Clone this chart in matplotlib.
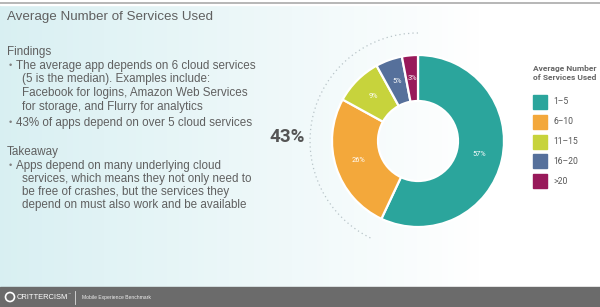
import numpy as np
import matplotlib
matplotlib.use('Agg')
import matplotlib.pyplot as plt
from matplotlib.patches import Arc, Rectangle

# data
categories = ['1\u20135', '6\u201310', '11\u201315', '16\u201320', '>20']
shares = [57, 26, 9, 5, 3]
colors = ['#2ba59c', '#f3a83b', '#c7d33c', '#56709b', '#98195a']
over_five = sum(shares[1:])

title = 'Average Number of Services Used'
findings = [
    ['The average app depends on 6 cloud services',
     '(5 is the median). Examples include:',
     'Facebook for logins, Amazon Web Services',
     'for storage, and Flurry for analytics'],
    ['43% of apps depend on over 5 cloud services'],
]
takeaway = [
    ['Apps depend on many underlying cloud',
     'services, which means they not only need to',
     'be free of crashes, but the services they',
     'depend on must also work and be available'],
]

W, H = 600, 307
fig = plt.figure(figsize=(6, 3.07), dpi=100)

# background / text layer (pixel coords, y down)
bg = fig.add_axes([0, 0, 1, 1])
bg.set_xlim(0, W)
bg.set_ylim(H, 0)
bg.axis('off')
grad = np.linspace(0, 1, 256)
c0 = np.array([0.85, 0.94, 0.95])
c1 = np.array([1.0, 1.0, 1.0])
t = np.clip(grad / 0.8, 0, 1)[None, :, None]
img = c0 * (1 - t) + c1 * t
bg.imshow(img, extent=[0, W, 287, 5], aspect='auto', zorder=0)
bg.add_patch(Rectangle((0, 0), W, 5, color='white', zorder=1))
bg.plot([0, W], [3, 3], color='#aaaaaa', lw=1.2, zorder=2)
bg.add_patch(Rectangle((0, 287), W, 20, color='#6b6b6b', zorder=1))

txt = '#606060'
body = dict(fontsize=8.4, color=txt, family='Liberation Sans', va='center')
bullet = dict(fontsize=6.5, color='#808080', family='Liberation Sans', va='center')
bg.text(7, 17, title, fontsize=9.6, color=txt, family='Liberation Sans', va='center')

y = 52
bg.text(7, y, 'Findings', **body)
y += 13.5
for item in findings:
    for i, line in enumerate(item):
        if i == 0:
            bg.text(9, y, '\u2022', **bullet)
            bg.text(16, y, line, **body)
        else:
            bg.text(22, y, line, **body)
        y += 13.7
    y += 2.5
y = 152
bg.text(7, y, 'Takeaway', **body)
y += 14
for item in takeaway:
    for i, line in enumerate(item):
        if i == 0:
            bg.text(9, y, '\u2022', **bullet)
            bg.text(16, y, line, **body)
        else:
            bg.text(22, y, line, **body)
        y += 13

bg.text(287, 137, f'{over_five}%', fontsize=13.5, color='#555555', family='Roboto',
        weight='bold', ha='center', va='center')

# legend
bg.text(533, 73, 'Average Number\nof Services Used', fontsize=6, color='#666666',
        family='Roboto', weight='bold', va='center', linespacing=1.3)
for i, (lab, col) in enumerate(zip(categories, colors)):
    yc = 102 + i * 19.8
    bg.add_patch(Rectangle((533, yc - 7), 14, 14, color=col, zorder=3))
    bg.text(553, yc, lab, fontsize=6.2, color='#555555', family='Roboto', va='center')

# footer
bg.add_patch(plt.Circle((10, 297), 4.5, fill=False, ec='white', lw=1.2, zorder=3))
bg.text(17, 297.5, 'CRITTERCISM', fontsize=5.4, color='white', family='Liberation Sans',
        va='center', zorder=3)
bg.text(67.5, 293.5, '\u2122', fontsize=2.5, color='white', va='center', zorder=3)
bg.plot([75, 75], [291, 304], color='#dddddd', lw=0.6, zorder=3)
bg.text(82, 297.5, 'Mobile Experience Benchmark', fontsize=3.6, color='#eeeeee',
        family='Liberation Sans', va='center', zorder=3)

# donut layer (pixel coords, y up)
ax = fig.add_axes([0, 0, 1, 1])
ax.patch.set_alpha(0)
cx, cy, r = 418, H - 141, 86
ax.pie(shares, colors=colors, startangle=90, counterclock=False, center=(cx, cy), radius=r,
       wedgeprops=dict(width=r - 40, edgecolor='white', linewidth=1.6),
       autopct=lambda p: f'{p:.0f}%', pctdistance=0.73,
       textprops=dict(color='white', fontsize=5.3, family='Roboto'))
ax.add_patch(Arc((cx, cy), 2 * 108, 2 * 108, theta1=90, theta2=90 + 360 * over_five / 100,
                 color='#b8c4c8', lw=0.9, ls=(0, (1, 2.5))))
ax.set_xlim(0, W)
ax.set_ylim(0, H)
ax.set_aspect('auto')
ax.axis('off')

fig.savefig('out.png', dpi=100)
